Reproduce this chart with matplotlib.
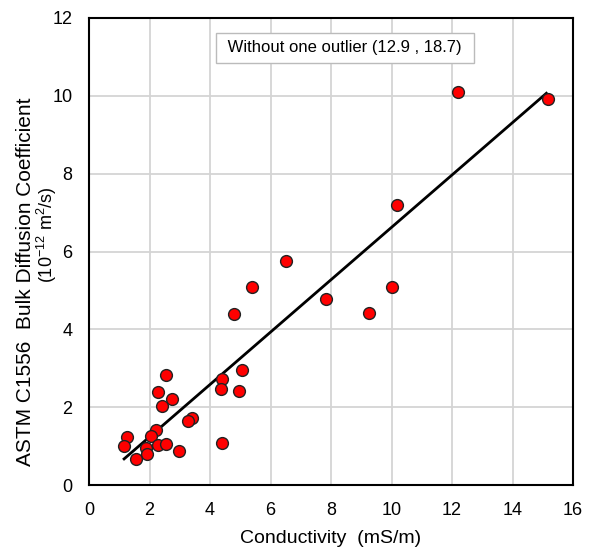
import numpy as np
import matplotlib
matplotlib.use("Agg")
import matplotlib.pyplot as plt

plt.rcParams['font.family'] = ['Liberation Sans', 'DejaVu Sans']

# conductivity (mS/m) vs bulk diffusion coefficient (1e-12 m2/s)
conductivity = [12.19, 15.18, 10.17, 6.52, 5.40, 10.03, 7.85, 4.80, 9.24, 5.07,
                2.55, 4.40, 4.37, 4.97, 2.28, 2.75, 2.42, 3.41, 3.28, 2.22,
                4.40, 1.26, 1.16, 2.06, 1.88, 2.29, 2.55, 1.93, 1.55, 2.96]
diffusion = [10.10, 9.91, 7.20, 5.76, 5.09, 5.09, 4.78, 4.40, 4.42, 2.96,
             2.83, 2.72, 2.47, 2.42, 2.39, 2.21, 2.03, 1.72, 1.65, 1.41,
             1.08, 1.23, 1.00, 1.26, 0.94, 1.04, 1.05, 0.79, 0.66, 0.87]

# linear fit line as drawn
fit_x = [1.16, 15.12]
slope, intercept = 0.673, -0.11
fit_y = [slope * v + intercept for v in fit_x]

fig = plt.figure(figsize=(5.95, 5.48), dpi=100)
ax = fig.add_axes([89 / 595, 1 - 485 / 548, (573 - 89) / 595, (485 - 18) / 548])

ax.grid(True, color='#d4d4d4', linewidth=1.3, zorder=0)
ax.set_axisbelow(True)
ax.plot(fit_x, fit_y, color='black', linewidth=2, zorder=2)
ax.plot(conductivity, diffusion, 'o', markersize=8.5, markerfacecolor='red',
        markeredgecolor='#222222', markeredgewidth=1, zorder=3)

ax.set_xlim(0, 16)
ax.set_ylim(0, 12)
ax.set_xticks(np.arange(0, 17, 2))
ax.set_yticks(np.arange(0, 13, 2))
ax.tick_params(length=0, labelsize=13, pad=12)
for s in ax.spines.values():
    s.set_linewidth(1.5)
    s.set_color('black')

ax.set_xlabel('Conductivity  (mS/m)', fontsize=14, labelpad=8)

# y label: two lines placed separately, as in the original
fig.text(26 / 595, 1 - 282 / 548, 'ASTM C1556  Bulk Diffusion Coefficient',
         rotation=90, ha='center', va='center', fontsize=15)
fig.text(47 / 595, 1 - 235 / 548, '(10$\\mathregular{^{-12}}$ m$\\mathregular{^2}$/s)',
         rotation=90, ha='center', va='center', fontsize=13)

ax.text(0.529, 0.936, ' Without one outlier (12.9 , 18.7) ', transform=ax.transAxes,
        ha='center', va='center', fontsize=12,
        bbox=dict(boxstyle='square,pad=0.45', facecolor='white', edgecolor='#bbbbbb'))

fig.savefig('out.png', dpi=100)
